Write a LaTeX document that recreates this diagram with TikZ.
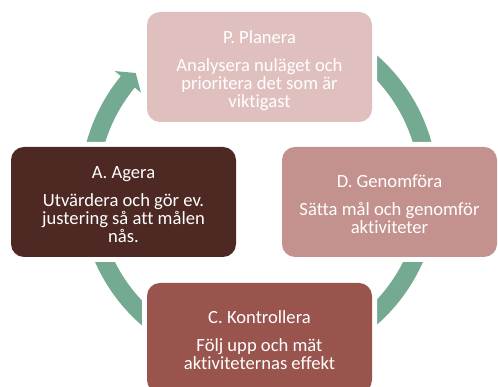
\documentclass[tikz,border=0pt]{standalone}
\usepackage{fontspec}
\setmainfont{Carlito}[Ligatures=NoCommon]
\usetikzlibrary{calc}
\definecolor{pcol}{RGB}{224,192,190}
\definecolor{dcol}{RGB}{196,146,142}
\definecolor{ccol}{RGB}{152,84,77}
\definecolor{acol}{RGB}{78,41,36}
\definecolor{ringcol}{RGB}{116,169,146}
\newcommand{\toprl}{\rule{0pt}{22.8pt}}
\newcommand{\botrl}{\rule[-6pt]{0pt}{6pt}}
\newcommand{\boxfont}{\fontsize{18.6}{18}\selectfont}
\begin{document}
\begin{tikzpicture}[x=1pt,y=1pt,
  box/.style={rectangle, rounded corners=13pt, minimum width=225pt, minimum height=110pt,
    inner sep=0pt, align=center, text=white, font=\boxfont,
    preaction={draw=white, line width=10pt}},
  ring/.style={fill=ringcol}]
\useasboundingbox (0,0) rectangle (498,387);
\coordinate (ctr) at (259,197);
\fill[ring] ($(ctr)+(100:179)$) arc[start angle=100, end angle=-219.5, radius=179]
  -- ($(ctr)+(-219.5:187)$) -- ($(ctr)+(-223.5:170)$) -- ($(ctr)+(-219.5:153)$)
  -- ($(ctr)+(-219.5:161)$) arc[start angle=-219.5, end angle=100, radius=161] -- cycle;
\node[box, fill=pcol] (P) at (259.5,320) {\toprl P. Planera\\[9.5pt]Analysera nuläget och\\prioritera det som är\\viktigast\botrl};
\node[box, fill=dcol, minimum width=215pt] (D) at (389.5,185) {\toprl D. Genomföra\\[9.5pt]Sätta mål och genomför\\aktiviteter\botrl};
\node[box, fill=ccol] (C) at (259.5,49) {\toprl C. Kontrollera\\[9.5pt]Följ upp och mät\\aktiviteternas effekt\botrl};
\node[box, fill=acol] (A) at (123.5,185) {\toprl A. Agera\\[9.5pt]Utvärdera och gör ev.\\justering så att målen\\nås.\botrl};
\end{tikzpicture}
\end{document}
